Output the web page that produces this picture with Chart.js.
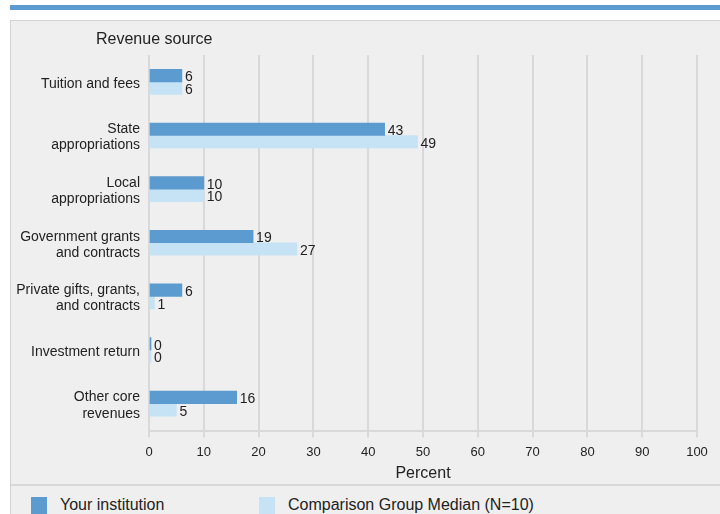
<!DOCTYPE html>
<html>
<head>
<meta charset="utf-8">
<script src="https://cdn.jsdelivr.net/npm/chart.js@4"></script>
<style>
  html, body { margin: 0; padding: 0; background: #ffffff; width: 720px; height: 514px; overflow: hidden; font-family: "Liberation Sans", Arial, sans-serif; }
  #topbar { position: absolute; left: 10px; top: 5px; width: 710px; height: 5px; background: #5b9bd0; }
  #panel { position: absolute; left: 10px; top: 20px; width: 720px; height: 520px; background: #efefef; border-left: 1px solid #d2d2d2; border-top: 1px solid #d2d2d2; box-sizing: border-box; }
  #sep { position: absolute; left: 0; top: 463px; width: 720px; height: 2px; background: #d8d8d8; }
  canvas { position: absolute; left: 0; top: 0; }
  .leg { position: absolute; top: 475px; font-size: 16px; color: #222; display: flex; align-items: center; }
  .sw { width: 16px; height: 17px; display: inline-block; }
</style>
</head>
<body>
<div id="topbar"></div>
<div id="panel">
  <canvas id="c" width="709" height="463"></canvas>
  <div id="sep"></div>
  <div class="leg" style="left:20px;"><span class="sw" style="background:#5b9bd0;"></span><span style="margin-left:13px;">Your institution</span></div>
  <div class="leg" style="left:248px;"><span class="sw" style="background:#c6e3f6;"></span><span style="margin-left:13px;">Comparison Group Median (N=10)</span></div>
</div>
<script>
const categories = [
  ["Tuition and fees"],
  ["State", "appropriations"],
  ["Local", "appropriations"],
  ["Government grants", "and contracts"],
  ["Private gifts, grants,", "and contracts"],
  ["Investment return"],
  ["Other core", "revenues"]
];
const yourInstitution = [6, 43, 10, 19, 6, 0, 16];
const comparisonMedian = [6, 49, 10, 27, 1, 0, 5];
const seriesNames = ["Your institution", "Comparison Group Median (N=10)"];
const xTicks = [0, 10, 20, 30, 40, 50, 60, 70, 80, 90, 100];
const yTitle = "Revenue source";
const xTitle = "Percent";

const FONT = '"Liberation Sans", Arial, sans-serif';
const TEXT = '#222222';
const GRID = '#d9d9d9';

const valueLabels = {
  id: 'valueLabels',
  afterDatasetsDraw(chart) {
    const ctx = chart.ctx;
    ctx.save();
    ctx.font = '14px ' + FONT;
    ctx.fillStyle = TEXT;
    ctx.textAlign = 'left';
    ctx.textBaseline = 'middle';
    chart.data.datasets.forEach((ds, di) => {
      const meta = chart.getDatasetMeta(di);
      meta.data.forEach((el, i) => {
        ctx.fillText(String(ds.data[i]), el.x + 3, el.y + 2);
      });
    });
    ctx.restore();
  }
};

const yTitlePlugin = {
  id: 'yTitlePlugin',
  afterDraw(chart) {
    const ctx = chart.ctx;
    ctx.save();
    ctx.font = '16px ' + FONT;
    ctx.fillStyle = TEXT;
    ctx.textAlign = 'left';
    ctx.textBaseline = 'middle';
    ctx.fillText(yTitle, chart.chartArea.left - 53, chart.chartArea.top - 15);
    ctx.restore();
  }
};

new Chart(document.getElementById('c'), {
  type: 'bar',
  data: {
    labels: categories,
    datasets: [
      { label: seriesNames[0], data: yourInstitution, backgroundColor: '#5b9bd0', barThickness: 12.5, minBarLength: 2 },
      { label: seriesNames[1], data: comparisonMedian, backgroundColor: '#c6e3f6', barThickness: 12.5, minBarLength: 2 }
    ]
  },
  options: {
    indexAxis: 'y',
    responsive: false,
    animation: false,
    devicePixelRatio: 1,
    layout: { padding: { top: 34, right: 23, left: 0, bottom: 0 } },
    plugins: { legend: { display: false }, tooltip: { enabled: false }, title: { display: false } },
    scales: {
      x: {
        type: 'linear',
        min: 0, max: 100,
        afterBuildTicks(scale) { scale.ticks = xTicks.map(v => ({ value: v })); },
        afterFit(scale) { scale.height = 53.5; },
        grid: { color: GRID, lineWidth: 2, drawTicks: true, tickLength: 7, tickColor: GRID },
        border: { display: true, color: GRID, width: 2 },
        ticks: { font: { size: 13, family: FONT }, color: TEXT, padding: 7, maxRotation: 0 },
        title: { display: true, text: xTitle, font: { size: 16, family: FONT }, color: TEXT, padding: { top: 2, bottom: 1 } }
      },
      y: {
        afterFit(scale) { scale.width = 138; },
        grid: { display: false, drawTicks: false, tickLength: 0 },
        border: { display: false },
        ticks: { font: { size: 14, family: FONT, lineHeight: 1.15 }, color: TEXT, padding: 9, labelOffset: 2 }
      }
    }
  },
  plugins: [valueLabels, yTitlePlugin]
});
</script>
</body>
</html>
